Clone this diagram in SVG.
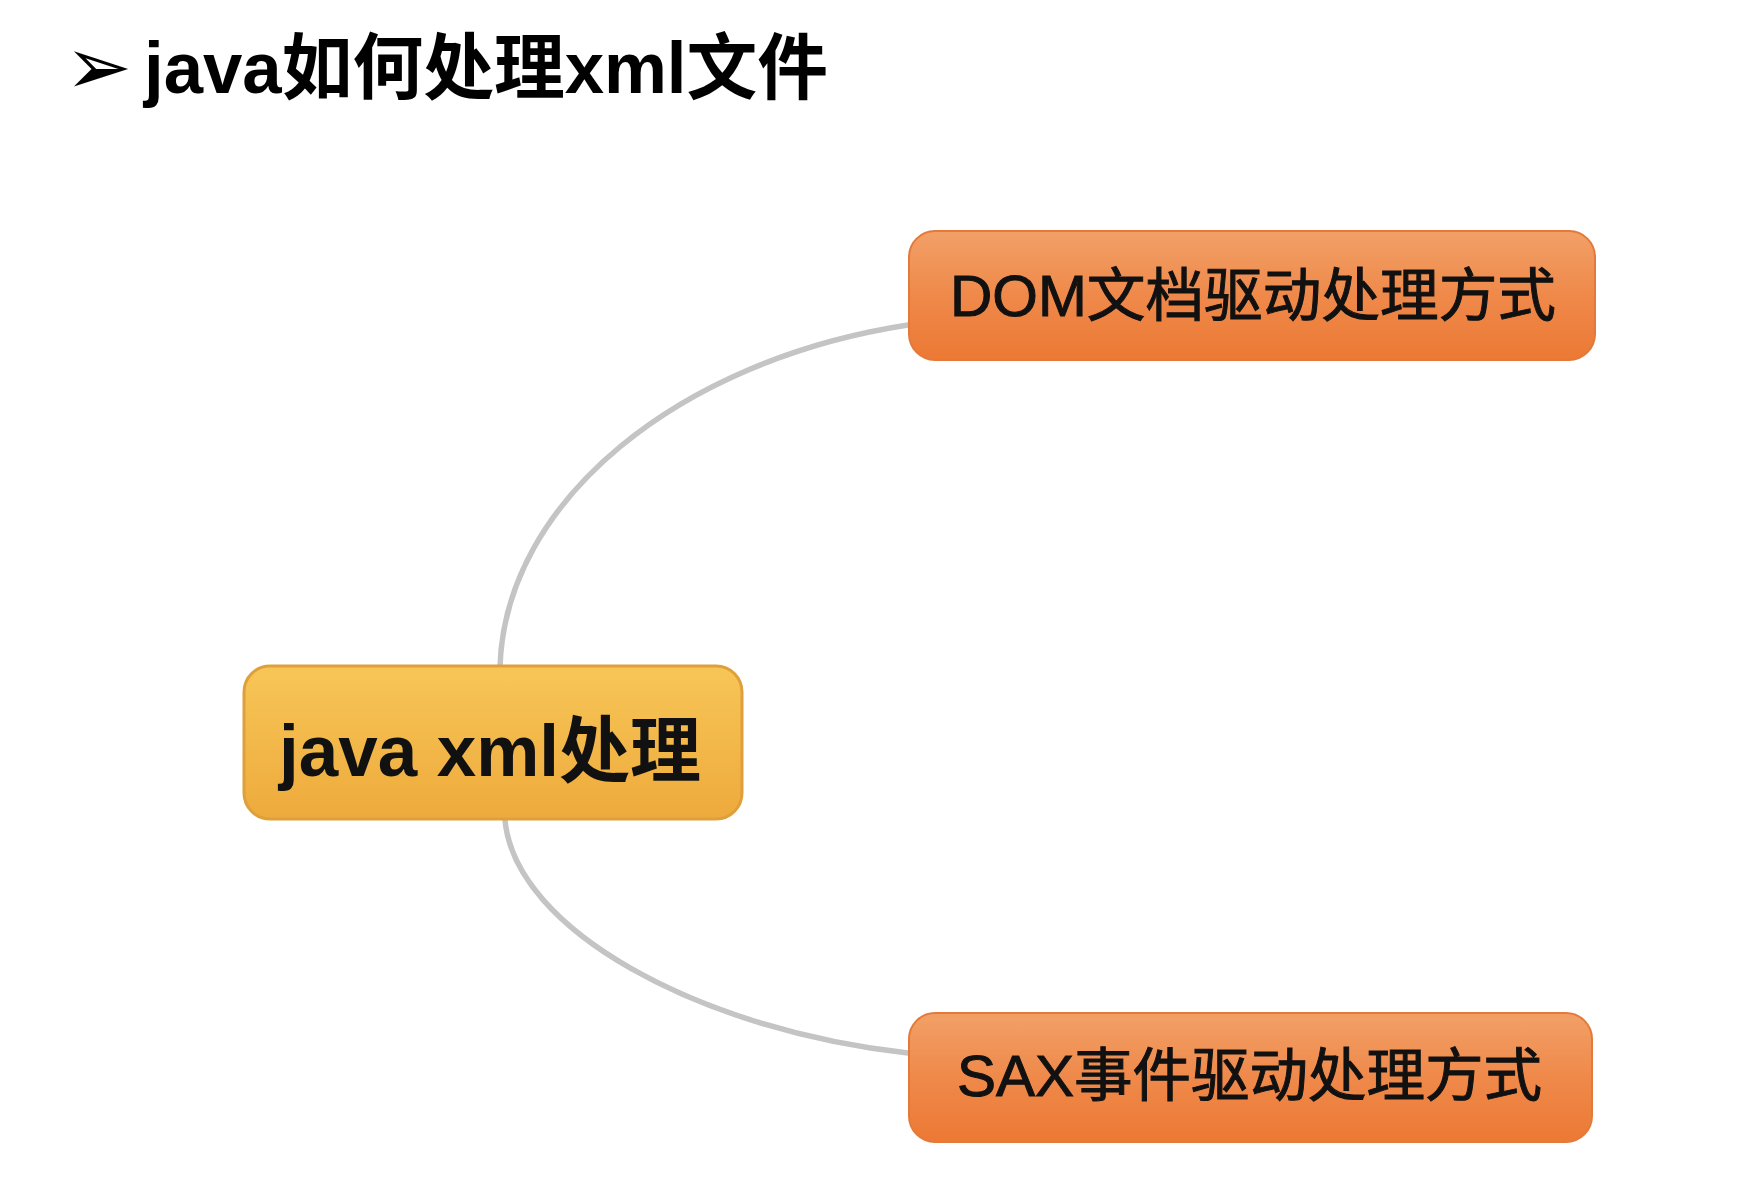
<svg xmlns="http://www.w3.org/2000/svg" width="1758" height="1194" viewBox="0 0 1758 1194">
<style>
.lat{font-family:"Liberation Sans","Noto Sans CJK SC",sans-serif}
.title{font-size:72px;font-weight:bold;fill:#000}
.ntext{font-size:58px;fill:#111;stroke:#111;stroke-width:1}
.ctext{font-size:72px;font-weight:bold;fill:#111}
.conn{fill:none;stroke:#C4C4C4;stroke-width:5.5;stroke-linecap:round}
.orange{fill:url(#gOrange);stroke:#E37A3A;stroke-width:2}
.yellow{fill:url(#gYellow);stroke:#DFA03C;stroke-width:3}
</style>
<defs>
<linearGradient id="gOrange" x1="0" y1="0" x2="0" y2="1">
<stop offset="0" stop-color="#F2A068"/>
<stop offset="0.5" stop-color="#EF894A"/>
<stop offset="1" stop-color="#EC7934"/>
</linearGradient>
<linearGradient id="gYellow" x1="0" y1="0" x2="0" y2="1">
<stop offset="0" stop-color="#F7C657"/>
<stop offset="1" stop-color="#EEAA3C"/>
</linearGradient>
</defs>
<rect width="1758" height="1194" fill="#FFFFFF"/>
<g id="title">
<text x="65" y="94" font-family="DejaVu Sans, sans-serif" font-size="80" fill="#000">➢</text>
<text class="lat title" x="144" y="93" textLength="684" lengthAdjust="spacingAndGlyphs">java如何处理xml文件</text>
</g>
<g id="connectors">
<path class="conn" d="M500,667 C505,500 680,360 908,325"/>
<path class="conn" d="M505,820 C515,930 700,1030 908,1053"/>
</g>
<g id="node-center">
<rect class="yellow" x="244" y="666" width="498" height="153" rx="26"/>
<text class="lat ctext" x="279" y="776" textLength="422" lengthAdjust="spacingAndGlyphs">java xml处理</text>
</g>
<g id="node-dom">
<rect class="orange" x="909" y="231" width="686" height="129" rx="26"/>
<text class="lat ntext" x="950" y="316" textLength="606" lengthAdjust="spacingAndGlyphs">DOM文档驱动处理方式</text>
</g>
<g id="node-sax">
<rect class="orange" x="909" y="1013" width="683" height="129" rx="26"/>
<text class="lat ntext" x="957" y="1096" textLength="585" lengthAdjust="spacingAndGlyphs">SAX事件驱动处理方式</text>
</g>
</svg>
